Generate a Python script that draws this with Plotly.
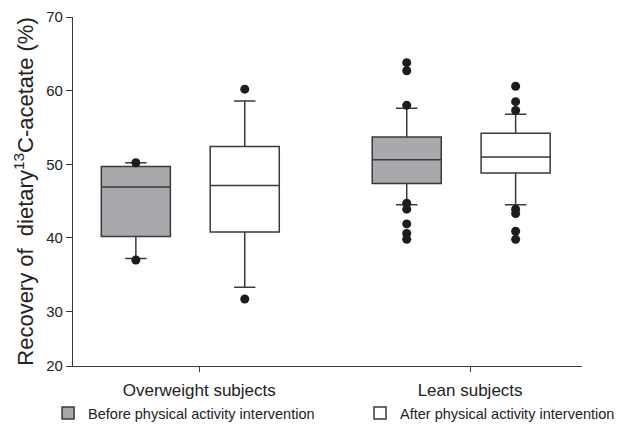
import plotly.graph_objects as go
import numpy as np

# ---------------- data ----------------
categories = ["Overweight subjects", "Lean subjects"]
series_names = ["Before physical activity intervention", "After physical activity intervention"]

# box statistics per category (Overweight, Lean)
before_lower = [37.2, 44.5]
before_q1 = [40.2, 47.4]
before_median = [46.9, 50.6]
before_q3 = [49.7, 53.7]
before_upper = [50.2, 57.6]

after_lower = [33.3, 44.5]
after_q1 = [40.8, 48.8]
after_median = [47.1, 51.0]
after_q3 = [52.4, 54.2]
after_upper = [58.6, 56.8]

# outliers per category
before_outliers = [[50.2, 37.0], [63.8, 62.7, 58.0, 44.7, 43.9, 41.9, 40.6, 39.8]]
after_outliers = [[60.2, 31.7], [60.6, 58.5, 57.3, 43.9, 43.3, 40.9, 39.8]]

y_tick_labels = ["20", "30", "40", "50", "60", "70"]

# ---------------- layout constants ----------------
OFFSET_BEFORE = -0.234
OFFSET_AFTER = 0.168
BOX_WIDTH = 0.255
Y_BOTTOM = 22.6
FONT = "Liberation Sans, Arial, sans-serif"
GRAY = "#a8a9ac"
LINE = "#3a3a3a"
DOT = "#1c1c1c"
TXT = "#222222"

pos = np.arange(len(categories))
x_before = pos + OFFSET_BEFORE
x_after = pos + OFFSET_AFTER

fig = go.Figure()

fig.add_trace(go.Box(
    name=series_names[0], x=x_before,
    q1=before_q1, median=before_median, q3=before_q3,
    lowerfence=before_lower, upperfence=before_upper,
    width=BOX_WIDTH, whiskerwidth=0.31, boxpoints=False,
    fillcolor=GRAY, line=dict(color=LINE, width=1.5),
    hoverinfo="skip", showlegend=True, legend="legend",
))
fig.add_trace(go.Box(
    name=series_names[1], x=x_after,
    q1=after_q1, median=after_median, q3=after_q3,
    lowerfence=after_lower, upperfence=after_upper,
    width=BOX_WIDTH, whiskerwidth=0.31, boxpoints=False,
    fillcolor="white", line=dict(color=LINE, width=1.5),
    hoverinfo="skip", showlegend=True, legend="legend2",
))

ox, oy = [], []
for i, vals in enumerate(before_outliers):
    ox += [x_before[i]] * len(vals)
    oy += vals
for i, vals in enumerate(after_outliers):
    ox += [x_after[i]] * len(vals)
    oy += vals
fig.add_trace(go.Scatter(
    x=ox, y=oy, mode="markers",
    marker=dict(symbol="circle", size=9, color=DOT, line=dict(width=0)),
    showlegend=False, hoverinfo="skip",
))

yticks = [Y_BOTTOM, 30, 40, 50, 60, 70]
legend_font = dict(size=14.5, family=FONT, color=TXT)

fig.update_layout(
    width=622, height=427,
    margin=dict(l=73, r=40, t=17, b=61, autoexpand=False),
    paper_bgcolor="white", plot_bgcolor="white",
    font=dict(family=FONT, color=TXT),
    showlegend=True,
    legend=dict(
        orientation="h", x=-0.049, xanchor="left", y=-0.1347, yanchor="middle",
        font=legend_font, bgcolor="rgba(0,0,0,0)",
    ),
    legend2=dict(
        orientation="h", x=1.0747, xanchor="right", y=-0.1347, yanchor="middle",
        font=legend_font, bgcolor="rgba(0,0,0,0)",
    ),
    xaxis=dict(
        range=[-0.466, 1.413], tickmode="array", tickvals=pos, ticktext=categories,
        showline=True, linecolor=LINE, linewidth=1.2,
        ticks="outside", ticklen=5, tickcolor=LINE, automargin=False,
        showgrid=False, zeroline=False, ticklabelstandoff=3,
        tickfont=dict(size=17, family=FONT, color=TXT),
    ),
    yaxis=dict(
        range=[Y_BOTTOM, 70], tickmode="array", tickvals=yticks, ticktext=y_tick_labels,
        showline=True, linecolor=LINE, linewidth=1.2, automargin=False,
        ticks="outside", ticklen=6, tickcolor=LINE,
        showgrid=False, zeroline=False,
        tickfont=dict(size=15, family=FONT, color=TXT),
        title=dict(text="Recovery of \u00a0dietary<sup>13</sup>C-acetate (%)",
                   font=dict(size=22, family=FONT, color=TXT), standoff=6),
    ),
)

fig.write_html("out.html")
